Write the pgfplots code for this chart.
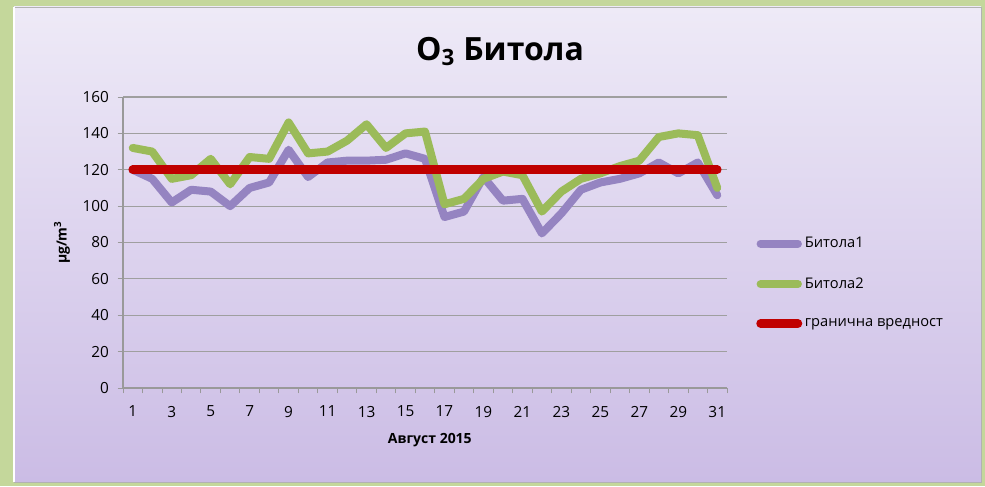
\documentclass[border=0pt]{standalone}
\usepackage{fontspec}
\setmainfont{Open Sans}
\usepackage{pgfplots}
\pgfplotsset{compat=1.18}
\definecolor{bggreen}{HTML}{C4D79B}
\definecolor{bgtop}{HTML}{EEEAF7}
\definecolor{bgbot}{HTML}{CBBCE5}
\definecolor{cpurple}{HTML}{9584C1}
\definecolor{cgreen}{HTML}{9BBB59}
\definecolor{cred}{HTML}{C00000}
\begin{document}
\begin{tikzpicture}[x=1pt,y=1pt]
\fill[bggreen] (0,0) rectangle (738.75,364.5);
\shade[top color=bgtop,bottom color=bgbot,draw=gray!60,line width=0.6pt] (10.5,3) rectangle (735.75,359.25);
\draw[white,line width=1.5pt] (10.5,3) -- (10.5,359.25);
\node[font=\bfseries\fontsize{24}{28}\selectfont] at (375,326) {O\textsubscript{3} Битола};
\begin{axis}[
  at={(92.25pt,73.5pt)}, anchor=south west,
  scale only axis, width=453pt, height=218.25pt,
  xmin=0.5, xmax=31.5, ymin=0, ymax=160,
  ytick={0,20,...,160},
  xtick={1,3,...,31},
  minor xtick={0.5,1.5,...,31.5},
  major x tick style={draw=none},
  minor tick length=4pt, major tick length=4pt,
  tick align=outside,
  axis x line*=bottom, axis y line*=left,
  axis line style={-, gray!80, line width=0.8pt},
  tick style={gray!80, line width=0.7pt},
  ymajorgrids, grid style={gray!75, line width=0.9pt},
  tick label style={font=\fontsize{11.5}{13}\selectfont},
  xticklabel style={yshift=-6pt},
  yticklabel style={xshift=-3pt},
  /pgf/number format/assume math mode=true,
  xlabel={\bfseries Август 2015},
  xlabel style={font=\fontsize{10.5}{12}\selectfont, at={(axis description cs:0.508,-0.179)}, anchor=center},
  ylabel={\bfseries µg/m\textsuperscript{3}},
  ylabel style={font=\fontsize{10.5}{12}\selectfont, at={(axis description cs:-0.101,0.5)}, anchor=center},
  legend style={at={(1.048,0.361)}, anchor=west, draw=none, fill=none,
    font=\fontsize{11}{13}\selectfont, row sep=17pt, inner sep=0pt},
  legend cell align=left,
  legend image code/.code={\draw[#1,line cap=round] (0pt,0pt) -- (28pt,0pt);},
  every axis plot/.append style={line join=round, line cap=round},
]
\addplot[cpurple, line width=6pt] coordinates {
(1,120)(2,115)(3,102)(4,109)(5,108)(6,100)(7,110)(8,113)(9,131)(10,116)
(11,124)(12,125)(13,125)(14,125.5)(15,129)(16,126)(17,94)(18,97)(19,116)(20,103)
(21,104)(22,85)(23,96)(24,109)(25,113)(26,115)(27,118)(28,124)(29,118)(30,124)(31,106)};
\addlegendentry{Битола1}
\addplot[cgreen, line width=6pt] coordinates {
(1,132)(2,130)(3,115)(4,117)(5,126)(6,112)(7,127)(8,126)(9,146)(10,129)
(11,130)(12,136)(13,145)(14,132)(15,140)(16,141)(17,101)(18,104)(19,115)(20,119)
(21,117)(22,97)(23,108)(24,115)(25,118)(26,122)(27,125)(28,138)(29,140)(30,139)(31,110)};
\addlegendentry{Битола2}
\addplot[cred, line width=6.5pt] coordinates {
(1,120)(2,120)(3,120)(4,120)(5,120)(6,120)(7,120)(8,120)(9,120)(10,120)
(11,120)(12,120)(13,120)(14,120)(15,120)(16,120)(17,120)(18,120)(19,120)(20,120)
(21,120)(22,120)(23,120)(24,120)(25,120)(26,120)(27,120)(28,120)(29,120)(30,120)(31,120)};
\addlegendentry{гранична вредност}
\end{axis}
\end{tikzpicture}
\end{document}
